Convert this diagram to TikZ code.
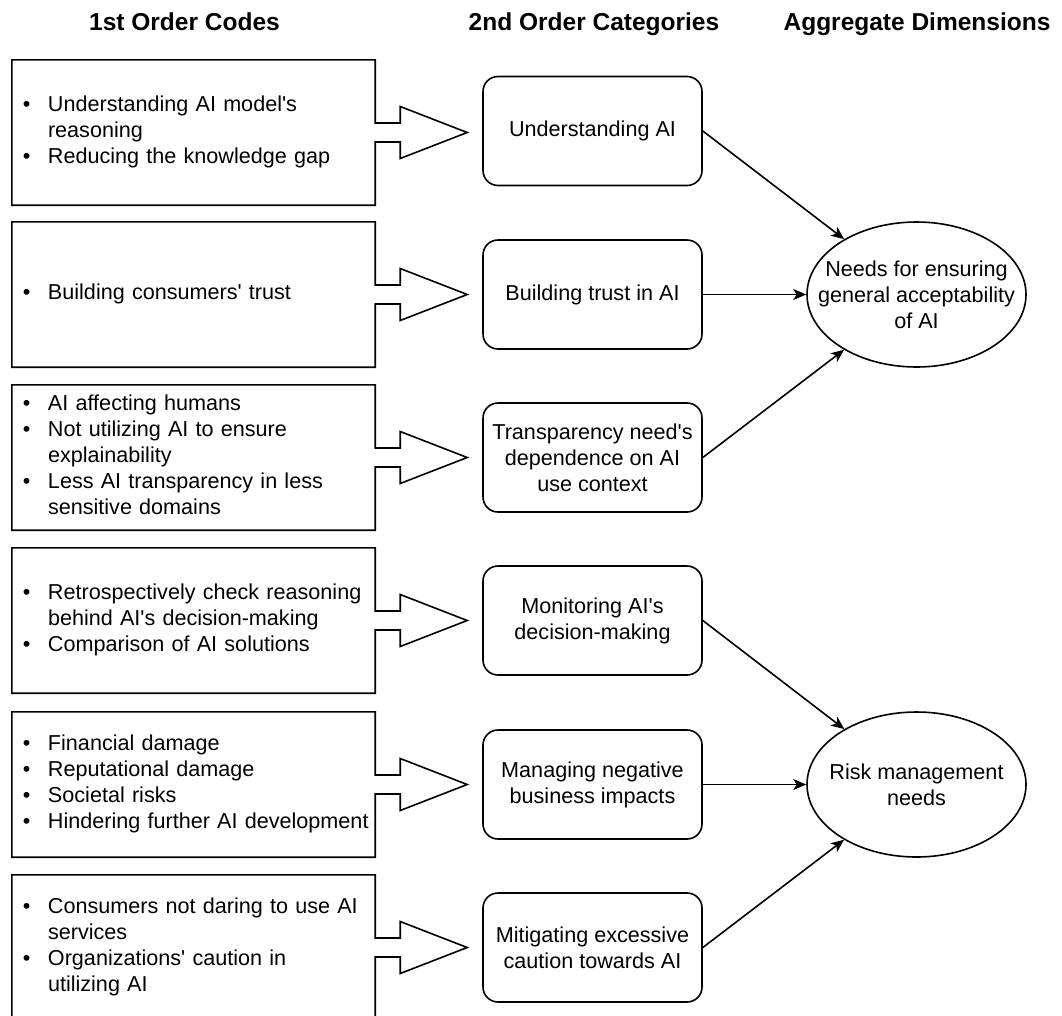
\documentclass[tikz,border=0pt]{standalone}
\usepackage{fontspec}
\setmainfont{Liberation Sans}[Ligatures=TeXOff]
\usetikzlibrary{calc,positioning,shapes.geometric,arrows.meta}
\newcommand{\bul}{\makebox[25pt][l]{\textbullet}}

\begin{document}
\begin{tikzpicture}[x=1pt,y=-1pt,font=\fontsize{21.6}{26}\selectfont,
  code/.style={minimum width=363pt,minimum height=145pt,inner xsep=11pt,inner ysep=0pt,text width=341pt,align=left},
  outline/.style={draw,line width=1.6pt,line join=miter},
  cat/.style={draw,line width=1.6pt,rounded corners=15pt,minimum width=219pt,minimum height=109pt,align=center},
  dim/.style={draw,ellipse,line width=1.6pt,minimum width=219pt,minimum height=145pt,inner sep=0pt},
  head/.style={font=\fontsize{24.5}{29}\selectfont\bfseries,anchor=base},
  link/.style={-{Stealth[length=13pt,width=11pt,inset=3.5pt]},line width=1.6pt}]
  \clip (0,0) rectangle (1062,1015);
  % column headers
  \node[head] (h1) at (184.5,30) {1st Order Codes};
  \node[head] (h2) at (594,30) {2nd Order Categories};
  \node[head] (h3) at (917,30) {Aggregate Dimensions};
  % 1st order codes
  \node[code] (c1) at (193.5,132.5) {\begin{tabular}{@{}l@{}l@{}}
    \bul & Understanding AI model's\\
         & reasoning\\
    \bul & Reducing the knowledge gap
  \end{tabular}};
  \node[code] (c2) at (193.5,294.5) {\begin{tabular}{@{}l@{}l@{}}
    \bul & Building consumers' trust
  \end{tabular}};
  \node[code] (c3) at (193.5,457.5) {\begin{tabular}{@{}l@{}l@{}}
    \bul & AI affecting humans\\
    \bul & Not utilizing AI to ensure\\
         & explainability\\
    \bul & Less AI transparency in less\\
         & sensitive domains
  \end{tabular}};
  \node[code] (c4) at (193.5,620.5) {\begin{tabular}{@{}l@{}l@{}}
    \bul & Retrospectively check reasoning\\
         & behind AI's decision-making\\
    \bul & Comparison of AI solutions
  \end{tabular}};
  \node[code] (c5) at (193.5,784.5) {\begin{tabular}{@{}l@{}l@{}}
    \bul & Financial damage\\
    \bul & Reputational damage\\
    \bul & Societal risks\\
    \bul & Hindering further AI development
  \end{tabular}};
  \node[code] (c6) at (193.5,947.5) {\begin{tabular}{@{}l@{}l@{}}
    \bul & Consumers not daring to use AI\\
         & services\\
    \bul & Organizations' caution in\\
         & utilizing AI
  \end{tabular}};
  % box outlines with the block arrows
  \foreach \n in {1,...,6}
    \draw[outline] (c\n.north west) -- (c\n.north east) -- ($(c\n.east)+(0,-9.5)$) -- ++(25,0) -- ++(0,-16.5)
      -- ($(c\n.east)+(92,0)$) -- ($(c\n.east)+(25,26)$) -- ++(0,-16.5) -- ++(-25,0)
      -- (c\n.south east) -- (c\n.south west) -- cycle;
  % 2nd order categories
  \node[cat] (k1) at (592.5,131) {Understanding AI};
  \node[cat] (k2) at (592.5,294.5) {Building trust in AI};
  \node[cat] (k3) at (592.5,457.5) {Transparency need's\\dependence on AI\\use context};
  \node[cat] (k4) at (592.5,620.5) {Monitoring AI's\\decision-making};
  \node[cat] (k5) at (592.5,784.5) {Managing negative\\business impacts};
  \node[cat] (k6) at (592.5,947.5) {Mitigating excessive\\caution towards AI};
  % aggregate dimensions
  \node[dim,label={[align=center]center:Needs for ensuring\\general acceptability\\of AI}] (d1) at (916.5,294.5) {};
  \node[dim,label={[align=center]center:Risk management\\needs}] (d2) at (916.5,784.5) {};
  \draw[link] (k1.east) -- (d1);
  \draw[link] (k2.east) -- (d1);
  \draw[link] (k3.east) -- (d1);
  \draw[link] (k4.east) -- (d2);
  \draw[link] (k5.east) -- (d2);
  \draw[link] (k6.east) -- (d2);
\end{tikzpicture}
\end{document}
